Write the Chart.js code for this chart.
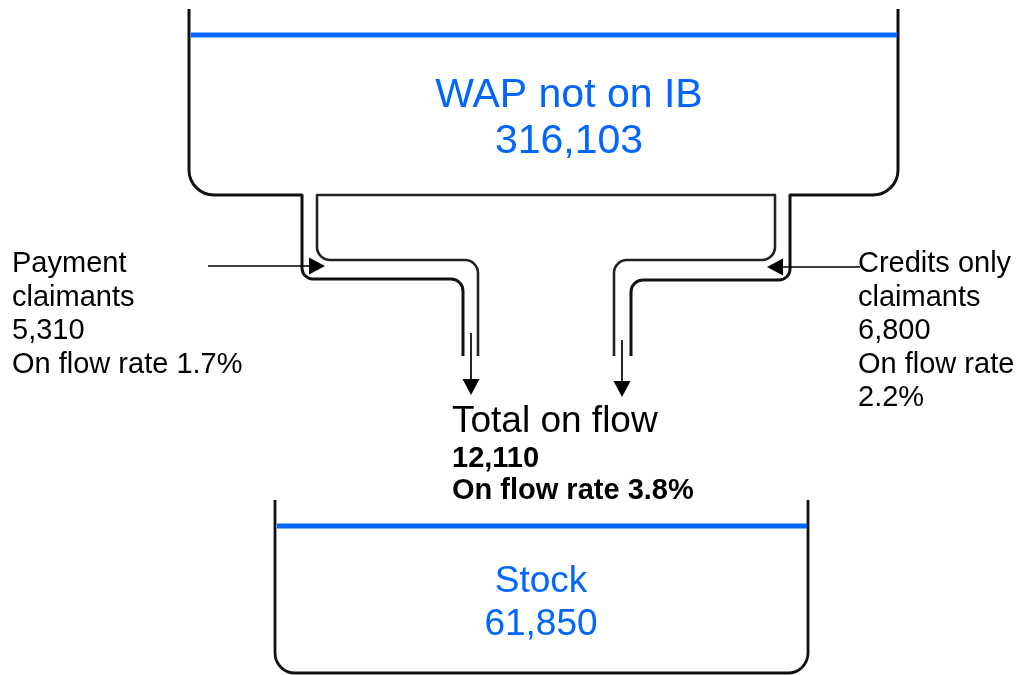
<!DOCTYPE html>
<html>
<head>
<meta charset="utf-8">
<script src="https://cdn.jsdelivr.net/npm/chart.js@4"></script>
<style>
body { margin:0; background:#fff; }
#c1 { display:block; }
</style>
</head>
<body>
<canvas id="c1" width="1021" height="675"></canvas>
<script>
// stocks
var tankNames = ['WAP not on IB', 'Stock'];
var tankValues = [316103, 61850];
// on flows
var flowLabels = [['Payment', 'claimants'], ['Credits only', 'claimants']];
var flowValues = [5310, 6800];
var flowRates = [1.7, 2.2];
var totalLabel = 'Total on flow';
var totalValue = 12110;
var totalRate = 3.8;

var blue = '#0066ff';
var font = '"Liberation Sans", Arial, sans-serif';

function fmt(n) { return n.toLocaleString('en-GB'); }

var flowDiagram = {
  id: 'flowDiagram',
  afterDraw: function(chart) {
    var ctx = chart.ctx;
    var sx = chart.scales.x, sy = chart.scales.y;
    function X(v) { return sx.getPixelForValue(v); }
    function Y(v) { return sy.getPixelForValue(v); }

    // path helper: list of [x,y] with corner radius r at inner points
    function path(pts, r, w, col) {
      ctx.save();
      ctx.beginPath();
      ctx.moveTo(X(pts[0][0]), Y(pts[0][1]));
      for (var i = 1; i < pts.length - 1; i++) {
        ctx.arcTo(X(pts[i][0]), Y(pts[i][1]), X(pts[i+1][0]), Y(pts[i+1][1]), r[i-1]);
      }
      var l = pts[pts.length-1];
      ctx.lineTo(X(l[0]), Y(l[1]));
      ctx.lineWidth = w;
      ctx.strokeStyle = col;
      ctx.lineJoin = 'round';
      ctx.stroke();
      ctx.restore();
    }
    function line(x1, y1, x2, y2, w, col) {
      ctx.save();
      ctx.beginPath();
      ctx.moveTo(X(x1), Y(y1));
      ctx.lineTo(X(x2), Y(y2));
      ctx.lineWidth = w;
      ctx.strokeStyle = col;
      ctx.stroke();
      ctx.restore();
    }
    function arrow(x1, y1, x2, y2) {
      var a = Math.atan2(Y(y2) - Y(y1), X(x2) - X(x1));
      var len = 16, hw = 8.5;
      var bx = X(x2) - len * Math.cos(a), by = Y(y2) - len * Math.sin(a);
      line(x1, y1, sx.getValueForPixel(bx), sy.getValueForPixel(by), 1.7, '#000');
      ctx.save();
      ctx.beginPath();
      ctx.moveTo(X(x2), Y(y2));
      ctx.lineTo(bx - hw * Math.sin(a), by + hw * Math.cos(a));
      ctx.lineTo(bx + hw * Math.sin(a), by - hw * Math.cos(a));
      ctx.closePath();
      ctx.fillStyle = '#000';
      ctx.fill();
      ctx.restore();
    }

    //top tank + outer pipe walls
    path([[189,9],[189,195],[302,195],[302,279],[463,279],[463,356]], [25,0,11,12], 3, '#111');
    path([[898,9],[898,195],[790,195],[790,280],[631,280],[631,356]], [25,0,11,12], 3, '#111');
    // inner pipe walls joined along tank bottom
    path([[478,356],[478,260],[317,260],[317,195],[775,195],[775,260],[614,260],[614,356]],
         [13,13,0,0,13,13], 2.6, '#222');
    line(191, 35, 897, 35, 5, blue);

    //bottom tank
    path([[275,500],[275,673],[808,673],[808,500]], [20,20], 2.8, '#111');
    line(277, 526, 807, 526, 5, blue);

    //arrows
    arrow(208, 266, 325, 266);
    arrow(860, 267, 767, 267);
    arrow(471, 333, 471, 395);
    arrow(622, 340, 622, 397);

    //texts
    ctx.save();
    ctx.textBaseline = 'alphabetic';
    ctx.fillStyle = blue;
    ctx.textAlign = 'center';
    ctx.font = '41px ' + font;
    ctx.fillText(tankNames[0], X(569), Y(107));
    ctx.fillText(fmt(tankValues[0]), X(569), Y(153));
    ctx.font = '37px ' + font;
    ctx.fillText(tankNames[1], X(541), Y(592));
    ctx.fillText(fmt(tankValues[1]), X(541), Y(635));

    ctx.fillStyle = '#000';
    ctx.textAlign = 'left';
    ctx.font = '37px ' + font;
    ctx.fillText(totalLabel, X(452), Y(432));
    ctx.font = 'bold 29px ' + font;
    ctx.fillText(fmt(totalValue), X(452), Y(467));
    ctx.fillText('On flow rate ' + totalRate.toFixed(1) + '%', X(452), Y(499));

    ctx.font = '29px ' + font;
    var lh = 33.5;
    var left = flowLabels[0].concat([fmt(flowValues[0]), 'On flow rate ' + flowRates[0].toFixed(1) + '%']);
    left.forEach(function(t, i) { ctx.fillText(t, X(12), Y(272 + i * lh)); });
    var right = flowLabels[1].concat([fmt(flowValues[1]), 'On flow rate', flowRates[1].toFixed(1) + '%']);
    right.forEach(function(t, i) { ctx.fillText(t, X(858), Y(272 + i * lh)); });
    ctx.restore();
  }
};

var ctx = document.getElementById('c1').getContext('2d');
var chart1 = new Chart(ctx, {
  type: 'scatter',
  data: { datasets: [{ data: [], showLine: false }] },
  options: {
    responsive: false,
    animation: false,
    layout: { padding: 0 },
    plugins: { legend: { display: false }, tooltip: { enabled: false } },
    scales: {
      x: { type: 'linear', min: 0, max: 1021, display: false },
      y: { type: 'linear', min: 0, max: 675, reverse: true, display: false }
    }
  },
  plugins: [flowDiagram]
});
</script>
</body>
</html>
